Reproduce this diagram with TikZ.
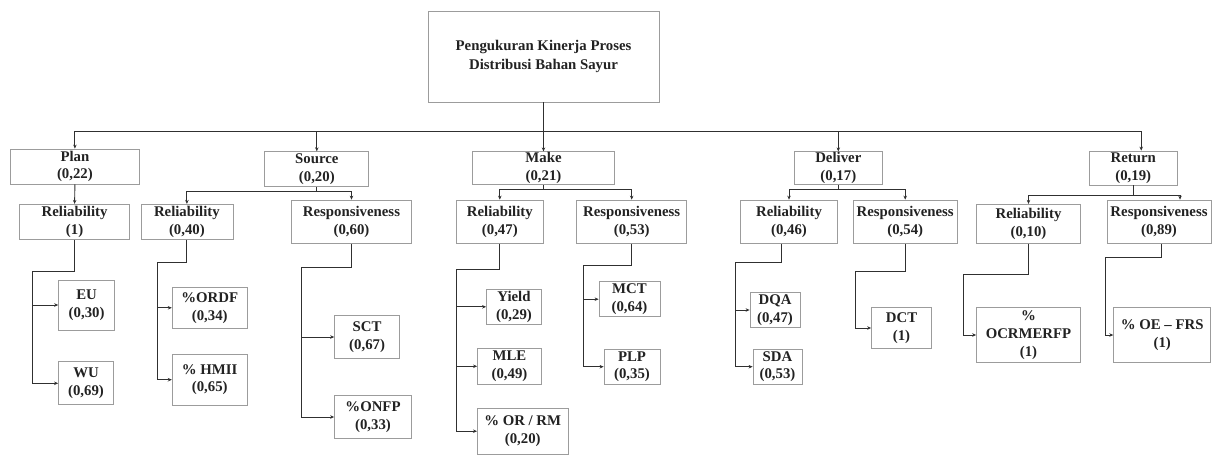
\documentclass[tikz,border=0pt]{standalone}
\usepackage{fontspec}
\setmainfont{Liberation Serif}
\usetikzlibrary{arrows.meta}
\definecolor{boxgray}{HTML}{9C9C9C}
\definecolor{linec}{HTML}{303030}
\definecolor{textc}{HTML}{222222}
\begin{document}
\begin{tikzpicture}[x=1pt,y=-1pt,
  bx/.style={draw=boxgray, line width=0.8pt, inner sep=0pt, align=center, text=textc,
     font=\fontsize{14.8}{17.8}\selectfont\bfseries},
  ln/.style={draw=linec, line width=0.9pt},
  arr/.style={ln, -{Stealth[length=4pt,width=3.5pt]}}]
\useasboundingbox (0,0) rectangle (1215,456);
% root
\node[bx, minimum width=231pt, minimum height=91pt, font=\fontsize{14.8}{19}\selectfont\bfseries] (top) at (543.5,56.5) {Pengukuran Kinerja Proses\\Distribusi Bahan Sayur};
% level 1
\node[bx, minimum width=129pt, minimum height=35pt] (plan) at (74.9,166.5) {Plan\\(0,22)};
\node[bx, minimum width=104pt, minimum height=35pt] (source) at (316.8,169.2) {Source\\(0,20)};
\node[bx, minimum width=142pt, minimum height=33pt] (make) at (543.5,168.3) {Make\\(0,21)};
\node[bx, minimum width=87.5pt, minimum height=33pt] (deliver) at (838.3,168.3) {Deliver\\(0,17)};
\node[bx, minimum width=88pt, minimum height=34pt] (return) at (1133.2,168) {Return\\(0,19)};
% level 2
\node[bx, minimum width=110pt, minimum height=35pt] (prel) at (74.6,221.8) {Reliability\\(1)};
\node[bx, minimum width=92pt, minimum height=35pt] (srel) at (186.9,221.8) {Reliability\\(0,40)};
\node[bx, minimum width=119.5pt, minimum height=43.3pt] (sresp) at (351.5,221.7) {Responsiveness\\(0,60)};
\node[bx, minimum width=87.6pt, minimum height=43.3pt] (mrel) at (499.8,221.7) {Reliability\\(0,47)};
\node[bx, minimum width=110pt, minimum height=43.3pt] (mresp) at (631.7,221.7) {Responsiveness\\(0,53)};
\node[bx, minimum width=97.3pt, minimum height=43.3pt] (drel) at (789,221.7) {Reliability\\(0,46)};
\node[bx, minimum width=104.5pt, minimum height=43.3pt] (dresp) at (905.2,221.7) {Responsiveness\\(0,54)};
\node[bx, minimum width=104pt, minimum height=39pt] (rrel) at (1028.5,223.8) {Reliability\\(0,10)};
\node[bx, minimum width=104pt, minimum height=43.3pt] (rresp) at (1159,221.7) {Responsiveness\\(0,89)};
% leaves
\node[bx, minimum width=56pt, minimum height=50pt] (eu) at (86.6,305) {EU\\(0,30)};
\node[bx, minimum width=55pt, minimum height=43pt] (wu) at (86,383.3) {WU\\(0,69)};
\node[bx, minimum width=75pt, minimum height=41pt] (ordf) at (209.7,307.8) {\%ORDF\\(0,34)};
\node[bx, minimum width=75pt, minimum height=50.7pt] (hmii) at (209.7,379.7) {\% HMII\\(0,65)};
\node[bx, minimum width=65pt, minimum height=42.6pt] (sct) at (367.1,337) {SCT\\(0,67)};
\node[bx, minimum width=77pt, minimum height=42.6pt] (onfp) at (373,417) {\%ONFP\\(0,33)};
\node[bx, minimum width=55pt, minimum height=35pt] (yield) at (514,306.8) {Yield\\(0,29)};
\node[bx, minimum width=64pt, minimum height=36pt] (mle) at (509.5,366.3) {MLE\\(0,49)};
\node[bx, minimum width=90.6pt, minimum height=45.7pt] (orrm) at (522.7,431.2) {\% OR / RM\\(0,20)};
\node[bx, minimum width=61pt, minimum height=35pt] (mct) at (629.5,299.2) {MCT\\(0,64)};
\node[bx, minimum width=56pt, minimum height=35.3pt] (plp) at (632,366.7) {PLP\\(0,35)};
\node[bx, minimum width=50pt, minimum height=35.4pt] (dqa) at (775,310) {DQA\\(0,47)};
\node[bx, minimum width=49pt, minimum height=35.3pt] (sda) at (777.5,366.7) {SDA\\(0,53)};
\node[bx, minimum width=60pt, minimum height=40.6pt] (dct) at (901.5,328) {DCT\\(1)};
\node[bx, minimum width=104pt, minimum height=54.6pt] (ocr) at (1028.5,335) {\%\\OCRMERFP\\(1)};
\node[bx, minimum width=97pt, minimum height=54.6pt] (oefrs) at (1162.2,335) {\% OE – FRS\\(1)};
% root to level 1
\coordinate (bus) at (543.5,131);
\draw[ln] (top.south) -- (bus);
\draw[arr] (bus) -| (plan.north);
\draw[arr] (bus) -| (source.north);
\draw[arr] (bus) -- (make.north);
\draw[arr] (bus) -| (deliver.north);
\draw[arr] (bus) -| ([xshift=8pt]return.north);
% level 1 to level 2
\draw[arr] (plan.south) -- (prel.north);
\coordinate (sb) at (316.8,191.5);
\draw[ln] (source.south) -- (sb);
\draw[arr] (sb) -| (srel.north);
\draw[arr] (sb) -| (sresp.north);
\coordinate (mb) at (543.5,189.3);
\draw[ln] (make.south) -- (mb);
\draw[arr] (mb) -| (mrel.north);
\draw[arr] (mb) -| (mresp.north);
\coordinate (db) at (838.3,189.3);
\draw[ln] (deliver.south) -- (db);
\draw[arr] (db) -| (drel.north);
\draw[arr] (db) -| (dresp.north);
\coordinate (rb) at (1133.2,195);
\draw[ln] (return.south) -- (rb);
\draw[arr] (rb) -| (rrel.north);
\draw[arr] (rb) -| ([xshift=21pt]rresp.north);
% level 2 to leaves
\coordinate (pb) at (32.3,271.7);
\draw[ln] (prel.south) |- (pb);
\draw[arr] (pb) |- (eu.west);
\draw[arr] (pb) |- (wu.west);
\coordinate (srb) at (157.2,262.3);
\draw[ln] (srel.south) |- (srb);
\draw[arr] (srb) |- (ordf.west);
\draw[arr] (srb) |- (hmii.west);
\coordinate (ssb) at (301.6,267.3);
\draw[ln] (sresp.south) |- (ssb);
\draw[arr] (ssb) |- (sct.west);
\draw[arr] (ssb) |- (onfp.west);
\coordinate (mrb) at (456,269.3);
\draw[ln] (mrel.south) |- (mrb);
\draw[arr] (mrb) |- (yield.west);
\draw[arr] (mrb) |- (mle.west);
\draw[arr] (mrb) |- (orrm.west);
\coordinate (msb) at (583.7,265);
\draw[ln] (mresp.south) |- (msb);
\draw[arr] (msb) |- (mct.west);
\draw[arr] (msb) |- (plp.west);
\coordinate (drb) at (735.4,262.3);
\draw[ln] ([xshift=-8pt]drel.south) |- (drb);
\draw[arr] (drb) |- (dqa.west);
\draw[arr] (drb) |- (sda.west);
\coordinate (dsb) at (855.2,271.7);
\draw[ln] (dresp.south) |- (dsb);
\draw[arr] (dsb) |- (dct.west);
\coordinate (rrb) at (963.8,274);
\draw[ln] (rrel.south) |- (rrb);
\draw[arr] (rrb) |- (ocr.west);
\coordinate (rsb) at (1105,257.3);
\draw[ln] ([xshift=2pt]rresp.south) |- (rsb);
\draw[arr] (rsb) |- (oefrs.west);
\end{tikzpicture}
\end{document}
